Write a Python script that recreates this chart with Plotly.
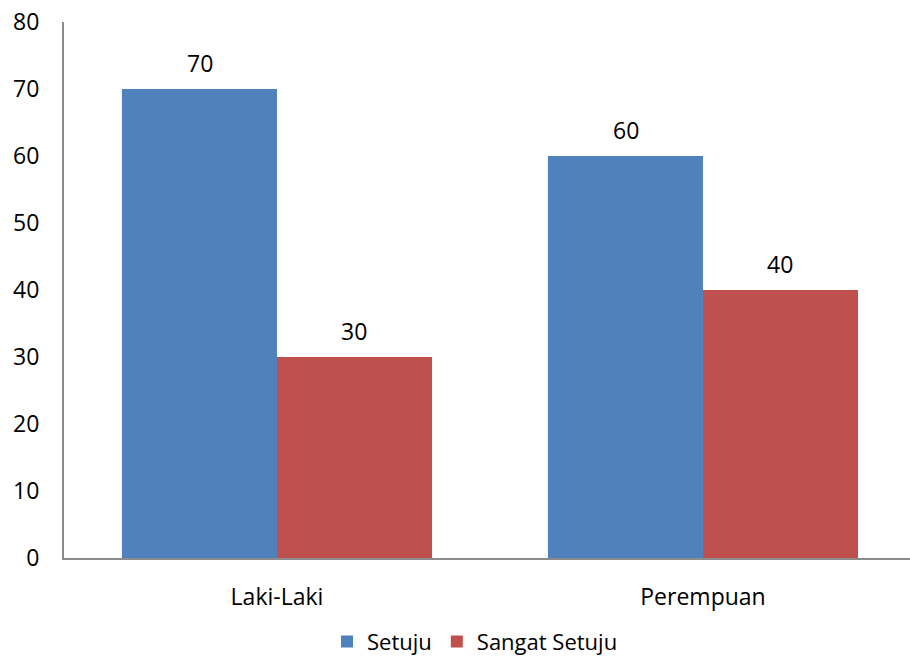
import plotly.graph_objects as go

categories = ["Laki-Laki", "Perempuan"]
setuju = [70, 60]
sangat_setuju = [30, 40]

blue = "#4F81BD"
red = "#C0504D"
font_family = "'Open Sans', 'Liberation Sans', sans-serif"
fsize = 23

fig = go.Figure()
fig.add_trace(go.Bar(name="Setuju", x=categories, y=setuju, marker_color=blue,
                     marker_line_width=0))
fig.add_trace(go.Bar(name="Sangat Setuju", x=categories, y=sangat_setuju, marker_color=red,
                     marker_line_width=0))

# value labels above each bar
offsets = {0: -0.1818, 1: 0.1818}
annotations = []
for si, vals in enumerate([setuju, sangat_setuju]):
    for ci, v in enumerate(vals):
        annotations.append(dict(x=ci + offsets[si], y=v, xref="x", yref="y",
                                text=str(v), showarrow=False, yanchor="bottom",
                                yshift=8, font=dict(size=fsize, color="#000000",
                                                    family=font_family)))

fig.update_layout(
    width=910, height=663,
    margin=dict(l=64, r=0, t=22, b=105, autoexpand=False),
    paper_bgcolor="white", plot_bgcolor="white",
    barmode="group", bargap=0.272, bargroupgap=0,
    font=dict(family=font_family, size=fsize, color="#000000"),
    showlegend=True,
    legend=dict(orientation="h", x=0.522, xref="container", xanchor="center",
                y=0.032, yref="container", yanchor="middle",
                font=dict(size=22), itemwidth=30, traceorder="normal"),
    annotations=annotations,
    xaxis=dict(range=[-0.5, 1.486], showline=True, linecolor="#8C8C8C", linewidth=2,
               ticks="", showgrid=False, zeroline=False, ticklabelstandoff=17,
               tickfont=dict(size=fsize)),
    yaxis=dict(range=[0, 80], dtick=10, showline=True, linecolor="#8C8C8C", linewidth=2,
               ticks="", showgrid=False, zeroline=False, ticklabelstandoff=18,
               tickfont=dict(size=fsize)),
)

fig.write_html("out.html")
